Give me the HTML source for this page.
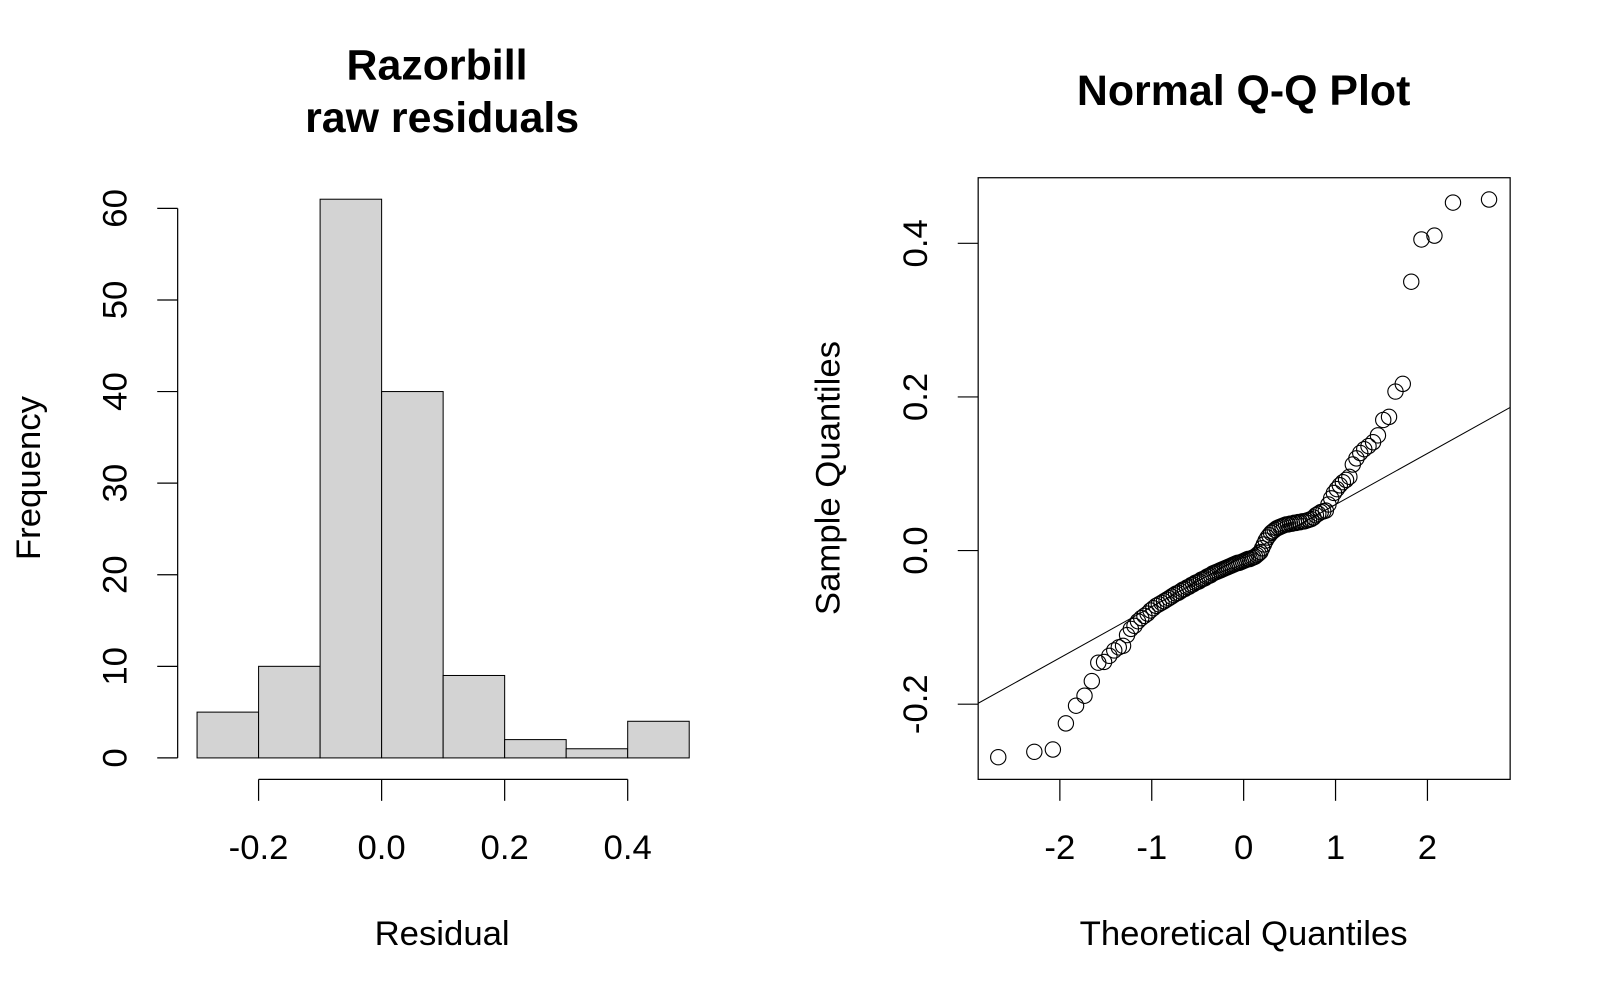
<!DOCTYPE html>
<html><head><meta charset="utf-8"><style>
html,body{margin:0;padding:0;background:#fff;}
svg{display:block;font-family:"Liberation Sans",Arial,sans-serif;}
</style></head><body>
<svg id="chart" width="1600" height="1000" viewBox="0 0 1567 979" preserveAspectRatio="none" xmlns="http://www.w3.org/2000/svg">
<rect width="1567" height="979" fill="#fff"/>
<g id="hist"></g>
<g id="qq"></g>
</svg>
<script>
const binEdges = [-0.3,-0.2,-0.1,0.0,0.1,0.2,0.3,0.4,0.5];
const binCounts = [5,10,61,40,9,2,1,4];
const histYTicks = [0,10,20,30,40,50,60];
const histXTicks = [-0.2,0.0,0.2,0.4];
const histXTickLabels = ["-0.2","0.0","0.2","0.4"];
const sampleValues = [
-0.269,-0.262,-0.259,-0.225,-0.202,
-0.189,-0.170,-0.146,-0.145,-0.137,-0.130,-0.126,-0.124,-0.110,-0.102,
-0.098,-0.092,-0.088,-0.085,-0.082,-0.078,-0.075,-0.072,-0.070,-0.068,
-0.066,-0.064,-0.062,-0.060,-0.058,-0.056,-0.055,-0.053,-0.051,-0.050,
-0.048,-0.047,-0.045,-0.044,-0.042,-0.041,-0.040,-0.038,-0.037,-0.036,
-0.034,-0.033,-0.032,-0.030,-0.029,-0.028,-0.027,-0.026,-0.025,-0.024,
-0.023,-0.022,-0.021,-0.020,-0.019,-0.018,-0.017,-0.016,-0.016,-0.015,
-0.014,-0.013,-0.012,-0.011,-0.011,-0.010,-0.009,-0.008,-0.006,-0.004,-0.002,
0.003,0.008,0.013,0.017,0.020,0.023,0.025,0.027,0.029,0.030,
0.031,0.032,0.033,0.034,0.034,0.035,0.035,0.036,0.036,0.037,
0.037,0.038,0.038,0.039,0.040,0.041,0.043,0.046,0.048,0.050,
0.051,0.052,0.060,0.068,0.075,0.080,0.085,0.089,0.092,0.096,
0.112,0.120,0.127,0.132,0.136,0.141,0.150,0.170,0.174,
0.207,0.217,0.350,0.405,0.410,0.453,0.457];
const qqXTicks = [-2,-1,0,1,2];
const qqYTicks = [-0.2,0.0,0.2,0.4];
const qqYTickLabels = ["-0.2","0.0","0.2","0.4"];

const NS="http://www.w3.org/2000/svg";
function mk(parent,tag,attrs,text){const e=document.createElementNS(NS,tag);for(const k in attrs)e.setAttribute(k,attrs[k]);if(text!==undefined)e.textContent=text;parent.appendChild(e);return e;}
const TF=34, AF=34, HF=42;

const hx = v => 193 + (v - (-0.3)) * (675-193)/0.8;
const hy = v => 742 - v * (742-204)/60;
const H=document.getElementById('hist');
let t;
t=mk(H,'text',{x:428,y:78,'text-anchor':'middle','font-size':HF,'font-weight':'bold'},'Razorbill');


t=mk(H,'text',{x:433,y:129,'text-anchor':'middle','font-size':HF,'font-weight':'bold'},'raw residuals');


binCounts.forEach((c,i)=>{
  const r=mk(H,'rect',{x:hx(binEdges[i]),y:hy(c),width:hx(binEdges[i+1])-hx(binEdges[i]),height:hy(0)-hy(c),fill:'#d3d3d3',stroke:'#000','stroke-width':1});
  
  
});
let a=mk(H,'line',{x1:174,x2:174,y1:hy(0),y2:hy(60),stroke:'#000','stroke-width':1.2});


histYTicks.forEach(v=>{
  mk(H,'line',{x1:154,x2:174,y1:hy(v),y2:hy(v),stroke:'#000','stroke-width':1.2});
  const l=mk(H,'text',{x:0,y:0,transform:`translate(124,${hy(v)}) rotate(-90)`,'text-anchor':'middle','font-size':TF},String(v));
  
  
});
a=mk(H,'line',{x1:hx(-0.2),x2:hx(0.4),y1:763,y2:763,stroke:'#000','stroke-width':1.2});


histXTicks.forEach((v,i)=>{
  mk(H,'line',{x1:hx(v),x2:hx(v),y1:763,y2:784,stroke:'#000','stroke-width':1.2});
  const l=mk(H,'text',{x:hx(v),y:841,'text-anchor':'middle','font-size':TF},histXTickLabels[i]);
  
  
});
t=mk(H,'text',{x:433,y:925,'text-anchor':'middle','font-size':AF},'Residual');


t=mk(H,'text',{x:0,y:0,transform:'translate(39,468) rotate(-90)','text-anchor':'middle','font-size':AF},'Frequency');



const Q=document.getElementById('qq');
const qx = v => 1218 + v*90;
const qy = v => 539 - v*752;
const n=sampleValues.length;
function qnorm(p){
  const a=[-39.69683028665376,220.9460984245205,-275.9285104469687,138.3577518672690,-30.66479806614716,2.506628277459239];
  const b=[-54.47609879822406,161.5858368580409,-155.6989798598866,66.80131188771972,-13.28068155288572];
  const c=[-0.007784894002430293,-0.3223964580411365,-2.400758277161838,-2.549732539343734,4.374664141464968,2.938163982698783];
  const d=[0.007784695709041462,0.3224671290700398,2.445134137142996,3.754408661907416];
  let q,r;
  if(p<0.02425){q=Math.sqrt(-2*Math.log(p));return (((((c[0]*q+c[1])*q+c[2])*q+c[3])*q+c[4])*q+c[5])/((((d[0]*q+d[1])*q+d[2])*q+d[3])*q+1);}
  if(p>1-0.02425){q=Math.sqrt(-2*Math.log(1-p));return -(((((c[0]*q+c[1])*q+c[2])*q+c[3])*q+c[4])*q+c[5])/((((d[0]*q+d[1])*q+d[2])*q+d[3])*q+1);}
  q=p-0.5;r=q*q;return (((((a[0]*r+a[1])*r+a[2])*r+a[3])*r+a[4])*r+a[5])*q/(((((b[0]*r+b[1])*r+b[2])*r+b[3])*r+b[4])*r+1);
}
const sorted=sampleValues.slice().sort((x,y)=>x-y);
function quant(arr,p){const h=(arr.length-1)*p;const lo=Math.floor(h);return arr[lo]+(h-lo)*((arr[Math.min(lo+1,arr.length-1)])-arr[lo]);}
const y1=quant(sorted,0.25),y2=quant(sorted,0.75),x1=qnorm(0.25),x2=qnorm(0.75);
const slope=(y2-y1)/(x2-x1),icpt=y1-slope*x1;
const xmin=(958-1218)/90,xmax=(1479-1218)/90;
mk(Q,'defs',{}).innerHTML='<clipPath id="qclip"><rect x="958" y="174" width="521" height="589"/></clipPath>';
let ln=mk(Q,'line',{x1:qx(xmin),y1:qy(icpt+slope*xmin),x2:qx(xmax),y2:qy(icpt+slope*xmax),stroke:'#000','stroke-width':1,'clip-path':'url(#qclip)'});


sorted.forEach((v,i)=>{
  const tq=qnorm((i+1-0.5)/n);
  const c=mk(Q,'circle',{cx:qx(tq),cy:qy(v),r:7.5,fill:'none',stroke:'#000','stroke-width':1.1});
  
  
});
let bx=mk(Q,'rect',{x:958,y:174,width:521,height:589,fill:'none',stroke:'#000','stroke-width':1.2});


qqXTicks.forEach(v=>{
  mk(Q,'line',{x1:qx(v),x2:qx(v),y1:763,y2:784,stroke:'#000','stroke-width':1.2});
  const l=mk(Q,'text',{x:qx(v),y:841,'text-anchor':'middle','font-size':TF},String(v));
  
  
});
qqYTicks.forEach((v,i)=>{
  mk(Q,'line',{x1:938,x2:958,y1:qy(v),y2:qy(v),stroke:'#000','stroke-width':1.2});
  const l=mk(Q,'text',{x:0,y:0,transform:`translate(908,${qy(v)}) rotate(-90)`,'text-anchor':'middle','font-size':TF},qqYTickLabels[i]);
  
  
});
t=mk(Q,'text',{x:1218,y:103,'text-anchor':'middle','font-size':HF,'font-weight':'bold'},'Normal Q-Q Plot');


t=mk(Q,'text',{x:1218,y:925,'text-anchor':'middle','font-size':AF},'Theoretical Quantiles');


t=mk(Q,'text',{x:0,y:0,transform:'translate(822,468) rotate(-90)','text-anchor':'middle','font-size':AF},'Sample Quantiles');


</script>
</body></html>
